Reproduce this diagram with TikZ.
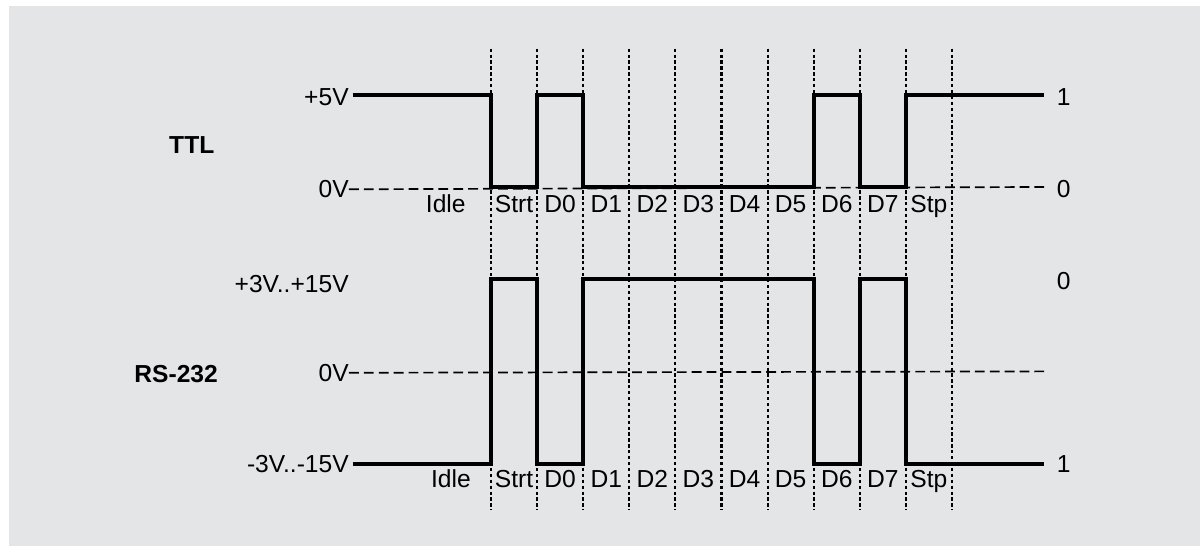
\documentclass[tikz,border=0pt]{standalone}
\usepackage{fontspec}
\setmainfont{Liberation Sans}
\usetikzlibrary{positioning}
\definecolor{panelbg}{HTML}{E4E5E7}
\tikzset{
  % testi
  lbl/.style={font=\fontsize{17.5}{20}\selectfont, inner sep=0pt},
  title/.style={font=\fontsize{17.5}{20}\selectfont\bfseries, inner sep=0pt},
  % segnale (forma d'onda)
  signal/.style={line width=2.8pt, line join=miter},
  % livello 0V
  zeroline/.style={line width=1.2pt, dash pattern=on 7pt off 3.6pt},
  % confini dei bit
  bitline/.style={line width=1.5pt, dash pattern=on 2.3pt off 1.9pt},
}
\begin{document}
\begin{tikzpicture}[x=1.1525cm, y=1.1525cm]
  \useasboundingbox (-10.65,4.056) rectangle (15.445,-7.81);
  \fill[panelbg] (-10.46,3.93) rectangle (15.38,-7.79);

  % bit boundaries
  \foreach \x in {0,...,10} { \draw[bitline] (\x,3) -- (\x,-7); }

  % TTL
  \node[title] (ttl) at (-6.49,0.91) {TTL};
  \node[lbl, anchor=east] (ttlhi) at (-3.08,1.95) {+5V};
  \node[lbl, anchor=east] (ttllo) at (-3.08,-0.05) {0V};
  \draw[zeroline] (ttllo.east) -- (12,0) coordinate (ttlend);
  \draw[signal] (-3,2) -- (0,2) -- (0,0) -- (1,0) -- (1,2) -- (2,2) -- (2,0)
    -- (7,0) -- (7,2) -- (8,2) -- (8,0) -- (9,0) -- (9,2) -- (12,2);
  \node[lbl, anchor=west] (ttlone) at (12.27,1.95) {1};
  \node[lbl, anchor=west] (ttlzero) at (12.27,-0.05) {0};

  % RS-232
  \node[title] (rs) at (-6.83,-4.06) {RS-232};
  \node[lbl, anchor=east] (rshi) at (-3.08,-2.1) {+3V..+15V};
  \node[lbl, anchor=east] (rsmid) at (-3.08,-4.03) {0V};
  \node[lbl, anchor=east] (rslo) at (-3.08,-6) {-3V..-15V};
  \draw[zeroline] (rsmid.east) -- (12,-4);
  \draw[signal] (-3,-6) -- (0,-6) -- (0,-2) -- (1,-2) -- (1,-6) -- (2,-6) -- (2,-2)
    -- (7,-2) -- (7,-6) -- (8,-6) -- (8,-2) -- (9,-2) -- (9,-6) -- (12,-6);
  \node[lbl, anchor=west] (rszero) at (12.27,-2.04) {0};
  \node[lbl, anchor=west] (rsone) at (12.27,-6) {1};

  % bit names
  \node[lbl, anchor=base] (ttlidle) at (-0.98,-0.56) {Idle};
  \node[lbl, anchor=base] (rsidle) at (-0.87,-6.51) {Idle};
  \foreach \n [count=\i from 0] in {Strt,D0,D1,D2,D3,D4,D5,D6,D7,Stp} {
    \node[lbl, anchor=base] (ttl-\n) at (\i+0.5,-0.56) {\n};
    \node[lbl, anchor=base] (rs-\n) at (\i+0.5,-6.51) {\n};
  }
\end{tikzpicture}
\end{document}
